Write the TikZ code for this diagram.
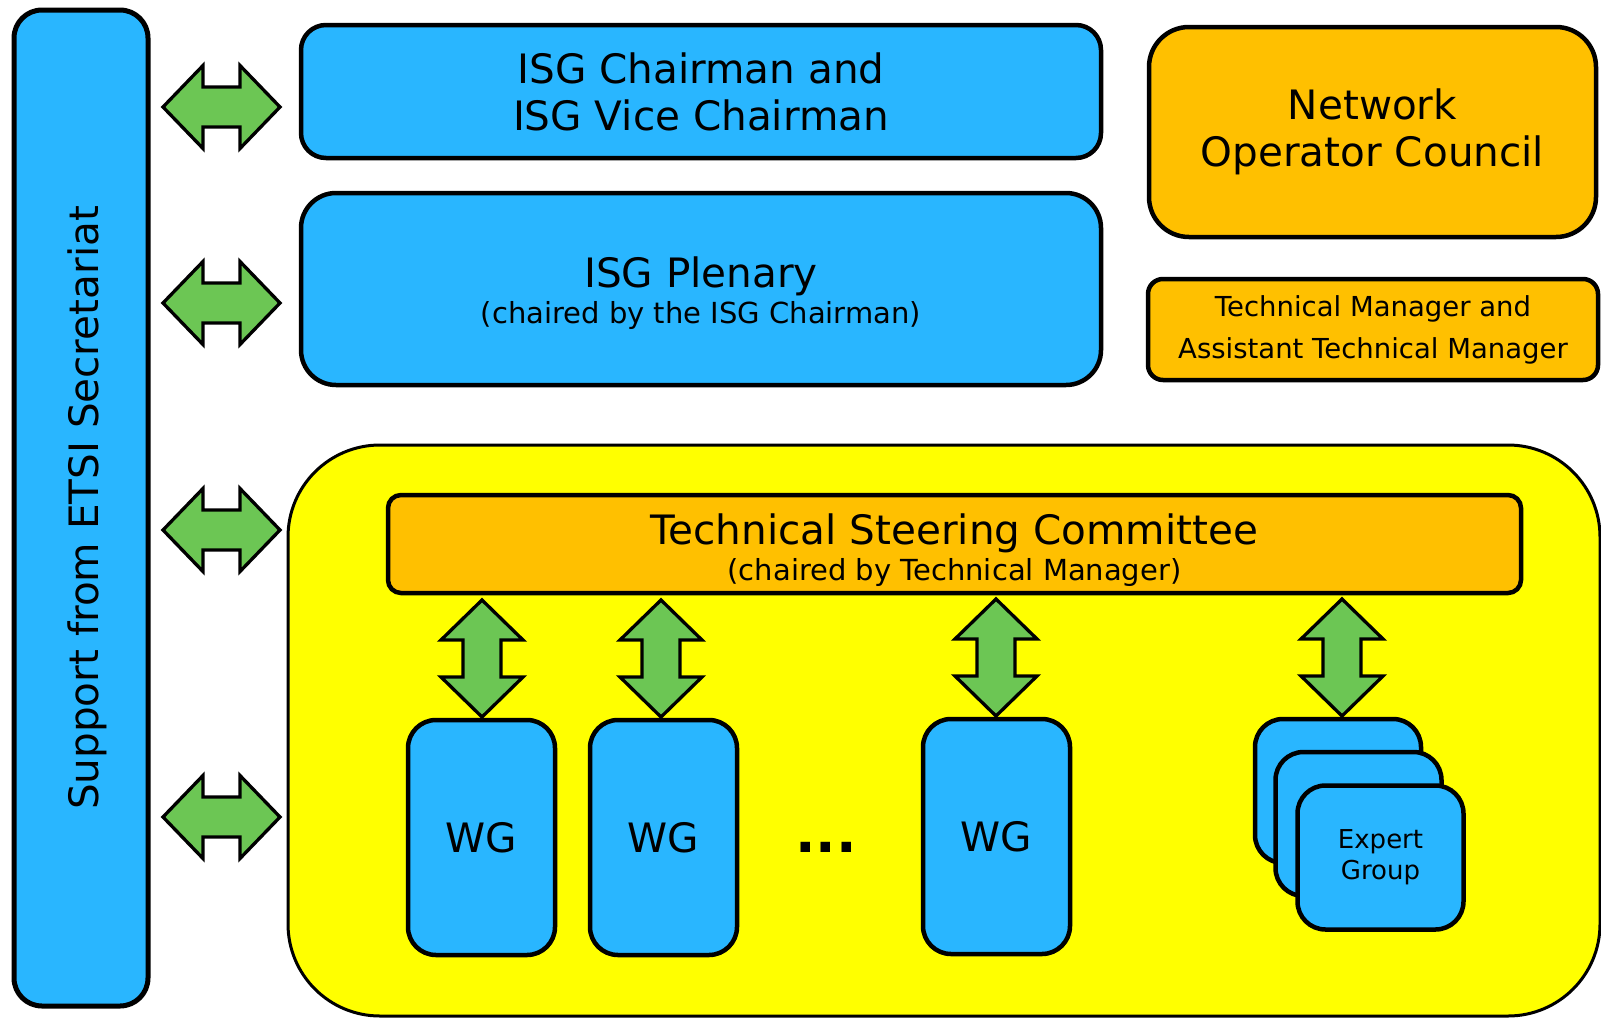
\documentclass[tikz,border=0pt]{standalone}
\usepackage{fontspec}
\setmainfont{DejaVu Sans}
\definecolor{boxblue}{RGB}{41,182,255}
\definecolor{boxorange}{RGB}{255,192,0}
\definecolor{arrgreen}{RGB}{108,198,84}
\definecolor{bgyellow}{RGB}{255,255,0}
\newcommand\hdarrow[1]{\draw[dblarrow] ([xshift=-58.5pt]#1) -- ++(40,-41.5) -- ++(0,21.5) -- ++(37,0) -- ++(0,-21.5) -- ++(40,41.5) -- ++(-40,41.5) -- ++(0,-21.5) -- ++(-37,0) -- ++(0,21.5) -- cycle;}
\newcommand\vdarrow[1]{\draw[dblarrow] ([yshift=58.5pt]#1) -- ++(-41,40) -- ++(22,0) -- ++(0,37) -- ++(-22,0) -- ++(41,40) -- ++(41,-40) -- ++(-22,0) -- ++(0,-37) -- ++(22,0) -- cycle;}
\begin{document}
\begin{tikzpicture}[x=1pt,y=-1pt,
  box/.style={draw=black, line width=4.5pt, rounded corners=#1, inner sep=0pt, align=center},
  bluebox/.style={box=#1, fill=boxblue},
  orangebox/.style={box=#1, fill=boxorange},
  dblarrow/.style={draw=black, fill=arrgreen, line width=3.3pt, line join=miter},
  bigtxt/.style={font=\fontsize{40.5}{47}\selectfont},
  midtxt/.style={font=\fontsize{29}{34}\selectfont},
  smalltxt/.style={font=\fontsize{27.5}{42}\selectfont},
  egtxt/.style={font=\fontsize{26}{31}\selectfont}]
\useasboundingbox (0,0) rectangle (1601,1018);
\clip (0,0) rectangle (1601,1018);

% left support bar
\node[bluebox=28pt, line width=5pt, minimum width=134pt, minimum height=996pt] (bar) at (81,508) {};
\node[bigtxt, rotate=90, anchor=base] (bartxt) at (98,508) {Support from ETSI Secretariat};

% top boxes
\node[bluebox=25pt, minimum width=800pt, minimum height=133pt, bigtxt] (chair) at (701,91.5) {ISG Chairman and\\ISG Vice Chairman};
\node[bluebox=35pt, minimum width=800pt, minimum height=192pt] (plen) at (701,289) {};
\node[bigtxt, anchor=base] (plentxt) at (701,287) {ISG Plenary};
\node[midtxt, anchor=base] (plensub) at (701,323) {(chaired by the ISG Chairman)};

\node[orangebox=40pt, minimum width=447pt, minimum height=210pt, bigtxt] (noc) at (1372.5,132) {Network\\Operator Council};
\node[orangebox=15pt, minimum width=450pt, minimum height=101pt, smalltxt] (tm) at (1373,329.5) {Technical Manager and\\Assistant Technical Manager};

% yellow area
\draw[fill=bgyellow, line width=3pt, rounded corners=92pt] (288,445) rectangle (1600,1016);
\path (288,445) -- (1600,445);

% TSC
\node[orangebox=13pt, minimum width=1133pt, minimum height=98pt] (tsc) at (954.5,544) {};
\node[bigtxt, anchor=base] (tsctxt) at (954.5,544) {Technical Steering Committee};
\node[midtxt, anchor=base] (tscsub) at (954.5,580) {(chaired by Technical Manager)};

% WGs
\node[bluebox=28pt, minimum width=147pt, minimum height=235pt, bigtxt] (wg1) at (481.5,837.5) {WG};
\node[bluebox=28pt, minimum width=147pt, minimum height=235pt, bigtxt] (wg2) at (663.5,837.5) {WG};
\node[bluebox=28pt, minimum width=147pt, minimum height=235pt, bigtxt] (wg3) at (996.5,836.5) {WG};
\node[font=\fontsize{54}{58}\selectfont\bfseries, anchor=base, inner sep=0pt] (dots) at (826,852) {...};

% expert groups
\node[bluebox=28pt, minimum width=166pt, minimum height=144pt] (eg1) at (1338,791) {};
\node[bluebox=28pt, minimum width=166pt, minimum height=144pt] (eg2) at (1358.5,824) {};
\node[bluebox=28pt, minimum width=166pt, minimum height=144pt, egtxt] (eg3) at (1380.5,857.5) {Expert\\Group};

% horizontal arrows
\coordinate (h1) at (221.5,107);
\coordinate (h2) at (221.5,303);
\coordinate (h3) at (221.5,530);
\coordinate (h4) at (221.5,817);
\hdarrow{h1}
\hdarrow{h2}
\hdarrow{h3}
\hdarrow{h4}

% vertical arrows
\coordinate (v1) at (482,658.5);
\coordinate (v2) at (661,658.5);
\coordinate (v3) at (996,657.5);
\coordinate (v4) at (1342,657.5);
\vdarrow{v1}
\vdarrow{v2}
\vdarrow{v3}
\vdarrow{v4}
\end{tikzpicture}
\end{document}
